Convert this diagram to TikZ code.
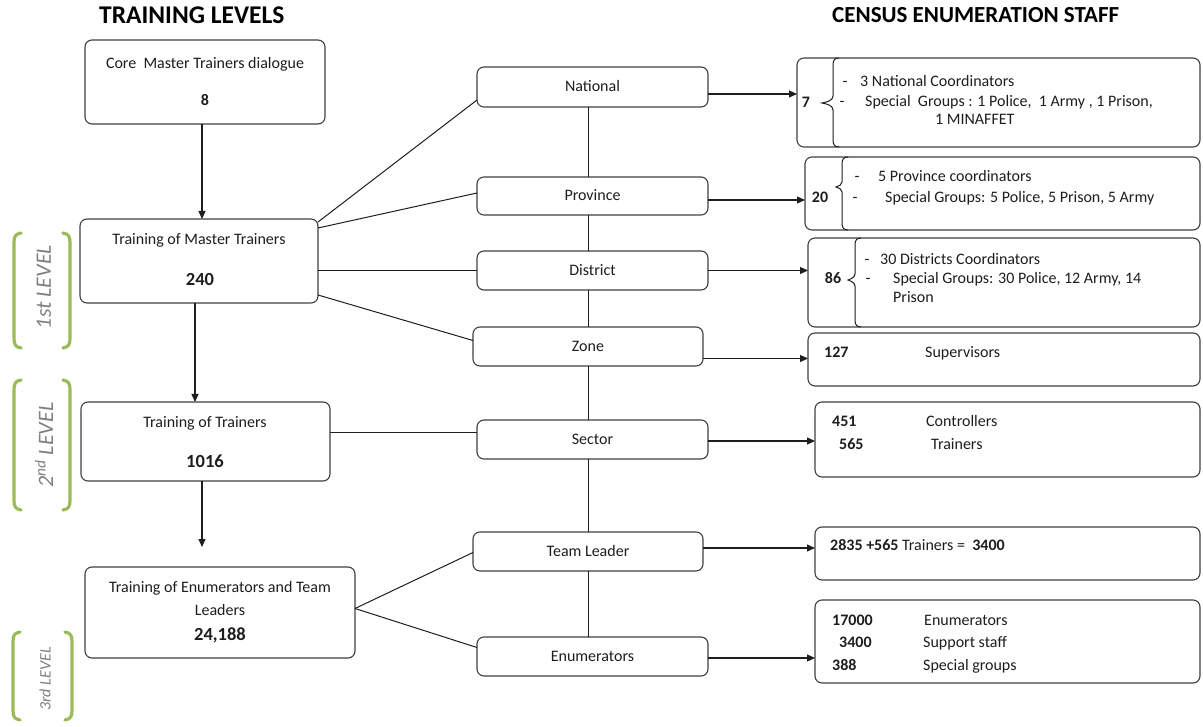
\documentclass[tikz,border=0pt]{standalone}
\usepackage{fontspec}
\setmainfont{Carlito}
\usetikzlibrary{arrows.meta,calc}
\definecolor{bordc}{HTML}{404040}
\definecolor{txtc}{HTML}{1E1E1E}
\definecolor{lvlgreen}{HTML}{9BBB59}
\definecolor{lvlgray}{HTML}{7F7F7F}
\newcommand\lvlbracket[4]{%
 \draw[lvl] ({#1+7},#3) .. controls ({#1+1},{#3+1}) and (#1,{#3+4}) .. (#1,{#3+10}) -- (#1,{#4-10}) .. controls (#1,{#4-4}) and ({#1+1},{#4-1}) .. ({#1+7},#4);
 \draw[lvl] ({#2-7},#3) .. controls ({#2-1},{#3+1}) and (#2,{#3+4}) .. (#2,{#3+10}) -- (#2,{#4-10}) .. controls (#2,{#4-4}) and ({#2-1},{#4-1}) .. ({#2-7},#4);}
\begin{document}
\begin{tikzpicture}[x=1pt,y=-1pt,
  every node/.style={font=\fontsize{16}{19}\selectfont, text=txtc},
  box/.style={draw=bordc, line width=1.1pt, rounded corners=7pt, fill=white, inner sep=0pt, outer sep=0pt, anchor=north west},
  txt/.style={inner sep=0pt, text height=9.5pt, text depth=0pt},
  num/.style={txt, font=\bfseries\fontsize{16}{19}\selectfont},
  bignum/.style={txt, font=\bfseries\fontsize{18.5}{21}\selectfont, text height=11pt},
  ttl/.style={inner sep=0pt, anchor=west, font=\bfseries\fontsize{23}{26}\selectfont, text=black},
  lvltxt/.style={inner sep=0pt, rotate=90, text=lvlgray, font=\itshape\fontsize{22}{24}\selectfont},
  lvl/.style={draw=lvlgreen, line width=3.2pt, line cap=round},
  ln/.style={draw=txtc, line width=1pt},
  arr/.style={draw=txtc, line width=1.1pt, -{Triangle[length=8pt,width=7pt]}}]
\useasboundingbox (0,0) rectangle (1203,727);

% titles
\node[ttl, font=\bfseries\fontsize{25.5}{28}\selectfont] (t1) at (99,15) {TRAINING LEVELS};
\node[ttl] (t2) at (832,15) {CENSUS ENUMERATION STAFF};

% left column boxes
\node[box, minimum width=240pt, minimum height=84pt] (core) at (85,40) {};
\node[box, minimum width=238pt, minimum height=84pt] (tmt) at (80,219) {};
\node[box, minimum width=249pt, minimum height=79pt] (tot) at (81,402) {};
\node[box, minimum width=270pt, minimum height=91pt] (toe) at (85,567) {};

\node[txt] (coreA) at (205,64) {Core\ \ Master Trainers dialogue};
\node[num] (coreB) at (205,101) {8};
\node[txt] (tmtA) at (199,240) {Training of Master Trainers};
\node[bignum] (tmtB) at (200,280) {240};
\node[txt] (totA) at (205,423) {Training of Trainers};
\node[bignum] (totB) at (205,462) {1016};
\node[txt] (toeA) at (220,588) {Training of Enumerators and Team};
\node[txt] (toeB) at (220,611) {Leaders};
\node[bignum] (toeC) at (220,635) {24,188};

% middle column
\node[box, minimum width=231pt, minimum height=40pt] (national) at (477,67) {};
\node[box, minimum width=231pt, minimum height=38pt] (province) at (477,177) {};
\node[box, minimum width=231pt, minimum height=39pt] (district) at (477,251) {};
\node[box, minimum width=230pt, minimum height=39pt] (zone) at (473,327) {};
\node[box, minimum width=231pt, minimum height=39pt] (sector) at (477,420) {};
\node[box, minimum width=230pt, minimum height=39pt] (teamleader) at (473,532) {};
\node[box, minimum width=231pt, minimum height=39pt] (enumerators) at (477,637) {};

\node[txt] at (national.center) {National};
\node[txt] at (province.center) {Province};
\node[txt] at (district.center) {District};
\node[txt] at (zone.center) {Zone};
\node[txt] at (sector.center) {Sector};
\node[txt] at (teamleader.center) {Team Leader};
\node[txt] at (enumerators.center) {Enumerators};

% right column
\node[box, minimum width=403pt, minimum height=89pt] (rN) at (797,58) {};
\node[box, minimum width=395pt, minimum height=73pt] (rP) at (805,157) {};
\node[box, minimum width=392pt, minimum height=89pt] (rD) at (808,238) {};
\node[box, minimum width=392pt, minimum height=53pt] (rZ) at (808,333) {};
\node[box, minimum width=385pt, minimum height=75pt] (rS) at (815,402) {};
\node[box, minimum width=385pt, minimum height=53pt] (rT) at (815,527) {};
\node[box, minimum width=385pt, minimum height=83pt] (rE) at (815,600) {};

% braces inside right boxes
\draw[ln] (839,58) .. controls (835,58) and (833,60) .. (833,65) -- (833,96) .. controls (833,100) and (828,102) .. (822,103) .. controls (828,104) and (833,106) .. (833,110) -- (833,140) .. controls (833,145) and (835,147) .. (839,147);
\draw[ln] (848,157) .. controls (844,157) and (842,159) .. (842,164) -- (842,182) .. controls (842,185) and (839,186) .. (836,187) .. controls (839,188) and (842,189) .. (842,192) -- (842,223) .. controls (842,228) and (844,230) .. (848,230);
\draw[ln] (861,238) .. controls (857,238) and (855,240) .. (855,245) -- (855,274) .. controls (855,277) and (851,279) .. (848,280) .. controls (851,281) and (855,283) .. (855,286) -- (855,320) .. controls (855,325) and (857,327) .. (861,327);

% right texts
\node[num] (n7) at (806,103) {7};
\node[txt] (nd1) at (845,82) {-};
\node[txt, anchor=west] (nt1) at (860,82) {3 National Coordinators};
\node[txt] (nd2) at (842,102) {-};
\node[txt, anchor=west] (nt2) at (865,102) {Special\ \ Groups : 1 Police,\ \ 1 Army , 1 Prison,};
\node[txt, anchor=west] (nt3) at (935,120) {1 MINAFFET};

\node[num] (p20) at (820,198) {20};
\node[txt] (pd1) at (857,177) {-};
\node[txt, anchor=west] (pt1) at (878,177) {5 Province coordinators};
\node[txt] (pd2) at (855,198) {-};
\node[txt, anchor=west] (pt2) at (885,198) {Special Groups: 5 Police, 5 Prison, 5 Army};

\node[num] (d86) at (833,279) {86};
\node[txt] (dd1) at (867,260) {-};
\node[txt, anchor=west] (dt1) at (880,260) {30 Districts Coordinators};
\node[txt] (dd2) at (868,279) {-};
\node[txt, anchor=west] (dt2) at (893,279) {Special Groups: 30 Police, 12 Army, 14};
\node[txt, anchor=west] (dt3) at (893,298) {Prison};

\node[num, anchor=west] (z1) at (824,353) {127};
\node[txt, anchor=west] (z2) at (925,353) {Supervisors};

\node[num, anchor=west] (s1) at (832,422) {451};
\node[txt, anchor=west] (s2) at (926,422) {Controllers};
\node[num, anchor=west] (s3) at (839,445) {565};
\node[txt, anchor=west] (s4) at (931,445) {Trainers};

\node[txt, anchor=west] (tl1) at (830,546) {\textbf{2835 +565} Trainers =\ \ \textbf{3400}};

\node[num, anchor=west] (e1) at (832,621) {17000};
\node[txt, anchor=west] (e2) at (924,621) {Enumerators};
\node[num, anchor=west] (e3) at (839,643) {3400};
\node[txt, anchor=west] (e4) at (923,643) {Support staff};
\node[num, anchor=west] (e5) at (832,666) {388};
\node[txt, anchor=west] (e6) at (923,666) {Special groups};

% vertical arrows in left column
\coordinate (totend) at (202,547);
\draw[arr] ([xshift=-3pt]core.south) -- ([xshift=-3pt]core.south |- tmt.north);
\draw[arr] ([xshift=-4pt]tmt.south) -- ([xshift=-4pt]tmt.south |- tot.north);
\draw[arr] (totend |- tot.south) -- (totend);

% connectors left -> middle
\draw[ln] ([yshift=-3pt]tmt.north east) -- ([yshift=-13pt]national.west);
\draw[ln] ([yshift=-9pt]tmt.north east) -- ([yshift=3pt]province.west);
\draw[ln] (district.west -| tmt.east) -- (district.west);
\draw[ln] ([yshift=-34pt]tmt.east) -- ([yshift=6pt]zone.west);
\draw[ln] ([yshift=7pt]sector.west -| tot.east) -- ([yshift=7pt]sector.west);
\draw[ln] ([yshift=4pt]toe.east) -- ([yshift=-1pt]teamleader.west);
\draw[ln] ([yshift=4pt]toe.east) -- ([yshift=9pt]enumerators.west);

% vertical spine in the middle
\coordinate (vx) at (588,0);
\draw[ln] (vx |- national.south) -- (vx |- province.north);
\draw[ln] (vx |- province.south) -- (vx |- district.north);
\draw[ln] (vx |- district.south) -- (vx |- zone.north);
\draw[ln] (vx |- zone.south) -- (vx |- sector.north);
\draw[ln] (vx |- sector.south) -- (vx |- teamleader.north);
\draw[ln] (vx |- teamleader.south) -- (vx |- enumerators.north);

% arrows middle -> right
\draw[arr] ([yshift=-7pt]national.east) -- ([yshift=-7pt]national.east -| rN.west);
\draw[arr] ([yshift=-4pt]province.east) -- ([yshift=-4pt]province.east -| rP.west);
\draw[arr] (district.east) -- (district.east -| rD.west);
\draw[arr] ([yshift=-12pt]zone.east) -- ([yshift=-12pt]zone.east -| rZ.west);
\draw[arr] ([yshift=-1.5pt]sector.east) -- ([yshift=-1.5pt]sector.east -| rS.west);
\draw[arr] ([yshift=3.5pt]teamleader.east) -- ([yshift=3.5pt]teamleader.east -| rT.west);
\draw[arr] ([yshift=-1.5pt]enumerators.east) -- ([yshift=-1.5pt]enumerators.east -| rE.west);

% level brackets
\lvlbracket{14}{70}{233}{348}
\lvlbracket{14}{70}{380}{510}
\lvlbracket{13}{72}{632}{720}
\node[lvltxt] (l1) at (44,287) {1st LEVEL};
\node[lvltxt] (l2) at (44,445) {2\textsuperscript{nd} LEVEL};
\node[lvltxt, font=\itshape\fontsize{16}{18}\selectfont] (l3) at (45,679) {3rd LEVEL};
\end{tikzpicture}
\end{document}
